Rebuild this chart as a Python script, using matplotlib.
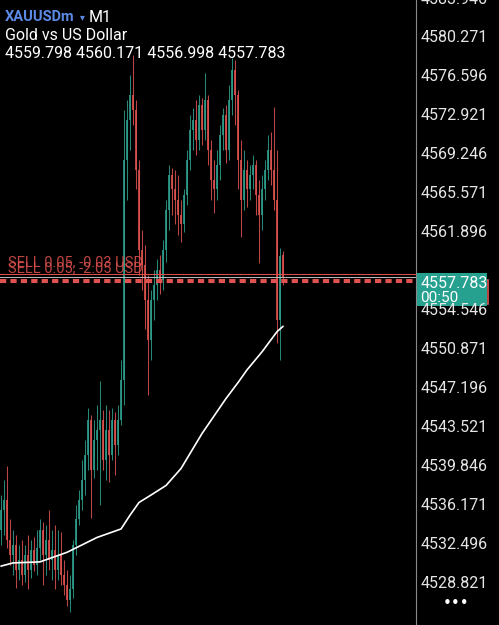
import matplotlib
matplotlib.use("Agg")
import matplotlib.pyplot as plt
import matplotlib.transforms as mtransforms
from matplotlib.patches import Rectangle

# XAUUSDm M1 candles
opens = [4533.9, 4535.8, 4536.7, 4533.0, 4531.5, 4532.5, 4530.1, 4531.1, 4529.7, 4531.5,
         4530.1, 4532.0, 4530.6, 4532.2, 4533.9, 4531.5, 4533.0, 4531.1, 4532.0, 4530.1,
         4531.5, 4529.7, 4528.7, 4527.3, 4528.3, 4532.5, 4534.9, 4536.7, 4538.6, 4541.0,
         4544.3, 4539.6, 4542.4, 4543.3, 4544.3, 4540.5, 4543.3, 4541.0, 4544.3, 4541.9,
         4544.3, 4548.0, 4568.8, 4572.5, 4574.9, 4573.5, 4567.8, 4560.3, 4558.9, 4555.6,
         4551.8, 4555.6, 4557.0, 4558.4, 4557.5, 4560.3, 4564.1, 4567.4, 4566.0, 4565.0,
         4563.6, 4562.7, 4565.5, 4568.8, 4571.6, 4572.5, 4570.7, 4574.0, 4571.6, 4574.4,
         4569.7, 4566.9, 4566.0, 4568.3, 4571.1, 4573.0, 4569.7, 4574.4, 4577.3, 4574.9,
         4568.8, 4565.0, 4567.8, 4566.0, 4567.4, 4568.3, 4565.5, 4563.6, 4566.0, 4567.8,
         4569.7, 4567.8, 4565.0, 4553.7, 4559.798]
highs = [4537.2, 4538.6, 4539.9, 4534.9, 4533.9, 4533.4, 4532.5, 4533.0, 4532.5, 4533.4,
         4533.0, 4533.2, 4533.9, 4534.9, 4534.7, 4534.4, 4535.8, 4533.9, 4534.4, 4533.9,
         4533.7, 4531.1, 4530.1, 4529.7, 4533.0, 4536.3, 4537.7, 4540.5, 4542.4, 4545.4,
         4544.7, 4544.3, 4545.7, 4547.9, 4545.2, 4545.7, 4545.2, 4545.4, 4545.0, 4545.7,
         4549.9, 4573.5, 4574.4, 4576.8, 4578.7, 4574.4, 4568.8, 4562.2, 4560.8, 4557.9,
         4556.5, 4558.4, 4559.4, 4559.8, 4561.2, 4565.0, 4568.3, 4568.0, 4567.8, 4567.4,
         4565.0, 4566.0, 4569.7, 4573.0, 4573.7, 4574.4, 4574.9, 4574.6, 4577.0, 4574.9,
         4570.7, 4568.8, 4569.7, 4572.1, 4573.7, 4574.0, 4575.8, 4578.4, 4578.2, 4575.4,
         4570.7, 4569.7, 4568.8, 4568.3, 4569.2, 4568.8, 4566.9, 4567.4, 4568.8, 4571.1,
         4571.4, 4573.8, 4569.7, 4560.5, 4560.171]
lows = [4532.5, 4533.4, 4532.2, 4530.6, 4529.7, 4528.4, 4529.2, 4528.7, 4529.0, 4528.3,
        4529.4, 4530.0, 4529.7, 4531.1, 4528.7, 4529.7, 4530.1, 4529.2, 4528.3, 4529.2,
        4528.7, 4527.8, 4526.7, 4526.2, 4527.5, 4531.5, 4534.4, 4535.8, 4537.2, 4539.6,
        4535.0, 4538.8, 4539.6, 4536.3, 4539.6, 4538.6, 4538.4, 4540.5, 4539.1, 4541.0,
        4543.8, 4545.7, 4565.0, 4569.7, 4572.1, 4566.0, 4557.9, 4556.5, 4552.8, 4546.6,
        4549.9, 4553.7, 4555.6, 4556.1, 4556.5, 4559.2, 4562.2, 4563.6, 4562.7, 4561.7,
        4561.0, 4562.0, 4564.5, 4567.8, 4569.7, 4569.2, 4569.7, 4570.2, 4570.7, 4568.3,
        4565.0, 4563.8, 4565.0, 4566.9, 4569.7, 4568.5, 4568.8, 4573.0, 4572.1, 4566.0,
        4561.5, 4564.1, 4564.3, 4565.0, 4566.0, 4563.6, 4559.1, 4562.2, 4565.0, 4566.9,
        4566.4, 4564.1, 4551.5, 4549.9, 4556.998]
closes = [4535.8, 4536.7, 4533.0, 4531.5, 4532.5, 4530.1, 4531.1, 4529.7, 4531.5, 4530.1,
          4532.0, 4530.6, 4532.2, 4533.9, 4531.5, 4533.0, 4531.1, 4532.0, 4530.1, 4531.5,
          4529.7, 4528.7, 4527.3, 4528.3, 4532.5, 4534.9, 4536.7, 4538.6, 4541.0, 4544.3,
          4539.6, 4542.4, 4543.3, 4544.3, 4540.5, 4543.3, 4541.0, 4544.3, 4541.9, 4544.3,
          4548.0, 4568.8, 4572.5, 4574.9, 4573.5, 4567.8, 4560.3, 4558.9, 4555.6, 4551.8,
          4555.6, 4557.0, 4558.4, 4557.5, 4560.3, 4564.1, 4567.4, 4566.0, 4565.0, 4563.6,
          4562.7, 4565.5, 4568.8, 4571.6, 4572.5, 4570.7, 4574.0, 4571.6, 4574.4, 4569.7,
          4566.9, 4566.0, 4568.3, 4571.1, 4573.0, 4569.7, 4574.4, 4577.3, 4574.9, 4568.8,
          4565.0, 4567.8, 4566.0, 4567.4, 4568.3, 4565.5, 4563.6, 4566.0, 4567.8, 4569.7,
          4567.8, 4565.0, 4553.7, 4559.7, 4557.783]

# moving average (white line), read at a few bars
ma_idx = [0, 4, 13, 16, 22, 27, 32, 40, 43, 46, 50, 55, 60, 67, 75, 79, 82, 87, 92, 94]
ma_val = [4530.5, 4530.8, 4530.9, 4531.2, 4531.8, 4532.5, 4533.2, 4534.0, 4535.3, 4536.5,
          4537.2, 4538.1, 4539.7, 4543.0, 4546.3, 4547.8, 4549.0, 4550.7, 4552.6, 4553.1]

price_ticks = [4583.946, 4580.271, 4576.596, 4572.921, 4569.246, 4565.571, 4561.896,
               4554.546, 4550.871, 4547.196, 4543.521, 4539.846, 4536.171, 4532.496, 4528.821]

bid = 4557.783
ask = 4558.03
sell_prices = [4557.51, 4557.28]
sell_labels = ["SELL 0.05, -0.03 USD", "SELL 0.05, -2.05 USD"]
label_lift = [7.5, 4.5]   # points above each sell line

up_col = "#2e9e8c"
dn_col = "#e0524f"
font = "Roboto"

fig = plt.figure(figsize=(4.99, 6.25), dpi=100, facecolor="black")
ax = fig.add_axes([0, 0, 416 / 499, 1])
ax.set_facecolor("black")
ax.set_xlim(-0.33, 138.3)
ax.set_ylim(4524.95, 4583.852)

for i in range(len(opens)):
    c = up_col if closes[i] >= opens[i] else dn_col
    ax.vlines(i, lows[i], highs[i], color=c, linewidth=0.75, alpha=0.85)
    lo = min(opens[i], closes[i])
    h = max(abs(closes[i] - opens[i]), 0.08)
    ax.bar(i, h, bottom=lo, width=0.55, color=c, linewidth=0, alpha=0.85)

ax.plot(ma_idx, ma_val, color="white", linewidth=1.2, solid_capstyle="round")

# bid / ask lines
ax.axhline(bid, color="#bbbbbb", linewidth=0.7)
ax.axhline(ask, color="#e0524f", linewidth=0.7)

# sell position lines
for p, lab, lift in zip(sell_prices, sell_labels, label_lift):
    ax.axhline(p, color="#e0524f", linewidth=1.5, linestyle=(0, (3, 2)))
    ax.annotate(lab, xy=(0, p), xytext=(5, lift), textcoords="offset points",
                color="#e0524f", fontsize=10.5, family=font, va="bottom", ha="left",
                alpha=0.85)

for s in ["top", "left", "bottom"]:
    ax.spines[s].set_visible(False)
ax.spines["right"].set_color("#8a8a8a")
ax.spines["right"].set_linewidth(0.8)
ax.set_xticks([])
ax.set_yticks([])

# price scale labels
trans = mtransforms.blended_transform_factory(ax.transAxes, ax.transData)
for p in price_ticks:
    ax.text(1.01, p, "%.3f" % p, transform=trans, color="#e6e6e6", fontsize=11.5,
            family=font, va="center", ha="left", clip_on=False)

# current price box
ax.add_patch(Rectangle((1.002, 4555.18), 0.172, 2.3, transform=trans, clip_on=False,
                       facecolor="none", edgecolor="#e0524f", linewidth=1.2))
ax.add_patch(Rectangle((1.002, 4555.0), 0.168, 3.15, transform=trans, clip_on=False,
                       facecolor="#26a190", edgecolor="none"))
ax.text(1.01, 4557.1, "%.3f" % bid, transform=trans, color="white", fontsize=11.5,
        family=font, va="center", ha="left", clip_on=False)
ax.text(1.01, 4555.8, "00:50", transform=trans, color="white", fontsize=11,
        family=font, va="center", ha="left", clip_on=False)

# header
fig.text(5 / 499, 1 - 17 / 625, "XAUUSDm", color="#5b8ae6", fontsize=10.5,
         fontweight="bold", family=font, va="center", ha="left")
fig.text(80 / 499, 1 - 17 / 625, "\u25be", color="#5b8ae6", fontsize=7,
         family="DejaVu Sans", va="center", ha="left")
fig.text(89 / 499, 1 - 17 / 625, "M1", color="white", fontsize=11.5,
         family=font, va="center", ha="left")
fig.text(5 / 499, 1 - 35 / 625, "Gold vs US Dollar", color="white", fontsize=11.5,
         family=font, va="center", ha="left")
fig.text(5 / 499, 1 - 54 / 625, "%.3f %.3f %.3f %.3f" % (opens[-1], highs[-1], lows[-1], closes[-1]),
         color="white", fontsize=11.5, family=font, va="center", ha="left")

fig.text(456 / 499, 1 - 604 / 625, "\u2022\u2022\u2022", color="white", fontsize=11,
         family="DejaVu Sans", va="center", ha="center")

fig.savefig("out.png", dpi=100, facecolor="black")
